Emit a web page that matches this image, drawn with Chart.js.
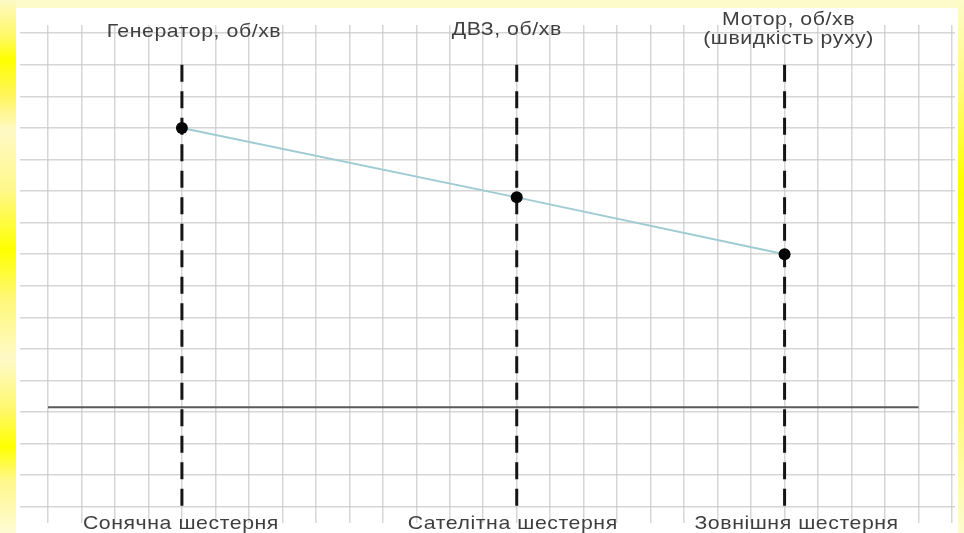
<!DOCTYPE html>
<html lang="uk">
<head>
<meta charset="utf-8">
<title>Планетарний механізм</title>
<script src="https://cdn.jsdelivr.net/npm/chart.js@4"></script>
<style>
  html, body { margin: 0; padding: 0; background: #fff; }
  .frame { position: relative; width: 964px; height: 533px; overflow: hidden; background: #fff; }
  .edge-top { position: absolute; left: 0; top: 0; width: 964px; height: 8px; background: #fdfbc9; }
  .edge-left {
    position: absolute; left: 0; top: 0; width: 16px; height: 533px;
    background: linear-gradient(to bottom, #fdf9c4 0px, #fff86a 35px, #ffff00 60px, #fff55a 95px,
      #fef9c6 130px, #fff88a 190px, #ffff00 250px, #fff87a 300px, #fefac8 360px,
      #fff86a 410px, #ffff00 447px, #fff88a 480px, #fefbd4 533px);
  }
  .edge-right {
    position: absolute; right: 0; top: 0; width: 6px; height: 533px;
    background: linear-gradient(to bottom, #fdfbc9 0px, #fffa7a 90px, #ffff00 180px, #ffff20 300px,
      #fffa80 420px, #fdfbd0 533px);
  }
  canvas { position: absolute; left: 0; top: 0; }
</style>
</head>
<body>
<div class="frame">
  <div class="edge-top"></div>
  <div class="edge-left"></div>
  <div class="edge-right"></div>
  <canvas id="gears" width="964" height="533"></canvas>
</div>
<script>
// gear columns (x in grid cells) and their captions
const gearPositions = [4, 14, 22];
const gearNames = ['Сонячна шестерня', 'Сателітна шестерня', 'Зовнішня шестерня'];
const shaftNames = [['Генератор, об/хв'], ['ДВЗ, об/хв'], ['Мотор, об/хв', '(швидкість руху)']];

// rotation speed of each member, in grid cells
const shaftSpeeds = [12, 9.8, 8];

// zero-speed line and the span of the dashed columns
const zeroLevel = 3.15;
const zeroFrom = 0;
const zeroTo = 26;
const columnTop = 14;
const columnBottom = 0;

// grid lines
const xGrid = Array.from({ length: 28 }, (_, i) => i);
const yGrid = Array.from({ length: 16 }, (_, i) => i);

const TEXT_COLOR = '#3f3f3f';
const FONT = '19px "Liberation Sans", Arial, sans-serif';
const TEXT_STRETCH = 1.12;

/**
 * @description Draws the shaft captions above each column and the gear names below.
 */
const captionsPlugin = {
  id: 'captions',
  afterDraw(chart) {
    const { ctx } = chart;
    const xScale = chart.scales.x;
    const topShift = [12, -10, 4];
    const topBaselines = [[37], [35], [25, 44]];
    const bottomShift = [-1, -4, 12];

    // the lettering is set a little wider than the regular face
    const put = (text, x, y) => {
      ctx.save();
      ctx.translate(x, y);
      ctx.scale(TEXT_STRETCH, 1);
      ctx.fillText(text, 0, 0);
      ctx.restore();
    };

    ctx.save();
    ctx.font = FONT;
    ctx.fillStyle = TEXT_COLOR;
    ctx.textAlign = 'center';
    ctx.textBaseline = 'alphabetic';
    ctx.letterSpacing = '0.5px';

    gearPositions.forEach((pos, i) => {
      const px = xScale.getPixelForValue(pos);
      shaftNames[i].forEach((line, j) => {
        put(line, px + topShift[i], topBaselines[i][j]);
      });
      put(gearNames[i], px + bottomShift[i], 529);
    });
    ctx.restore();
  },
};

// dashes run from the top of a column down to its foot
const columnSet = (pos) => ({
  data: [{ x: pos, y: columnTop }, { x: pos, y: columnBottom }],
  borderColor: '#151515',
  borderWidth: 3,
  borderDash: [17, 9.5],
  pointRadius: 0,
  order: 3,
});

const datasets = [
  ...gearPositions.map(columnSet),
  {
    data: [{ x: zeroFrom, y: zeroLevel }, { x: zeroTo, y: zeroLevel }],
    borderColor: '#5a5a5a',
    borderWidth: 2,
    pointRadius: 0,
    order: 2,
  },
  {
    data: gearPositions.map((pos, i) => ({ x: pos, y: shaftSpeeds[i] })),
    borderColor: '#9fcbd3',
    borderWidth: 2,
    pointRadius: 6,
    pointBackgroundColor: '#050505',
    pointBorderWidth: 0,
    order: 1,
  },
];

const gridOptions = {
  color: 'rgba(200, 200, 200, 0.75)',
  lineWidth: 1.5,
  drawTicks: false,
};

new Chart(document.getElementById('gears').getContext('2d'), {
  type: 'line',
  data: { datasets },
  options: {
    responsive: false,
    animation: false,
    events: [],
    layout: { padding: { left: 20, right: 9, top: 25, bottom: 10 } },
    plugins: { legend: { display: false }, tooltip: { enabled: false } },
    scales: {
      x: {
        type: 'linear',
        min: -0.836,
        max: 27.09,
        grid: gridOptions,
        border: { display: false },
        ticks: { display: false },
        afterBuildTicks: (scale) => { scale.ticks = xGrid.map((value) => ({ value })); },
      },
      y: {
        type: 'linear',
        min: -0.516,
        max: 15.26,
        grid: gridOptions,
        border: { display: false },
        ticks: { display: false },
        afterBuildTicks: (scale) => { scale.ticks = yGrid.map((value) => ({ value })); },
      },
    },
  },
  plugins: [captionsPlugin],
});
</script>
</body>
</html>
